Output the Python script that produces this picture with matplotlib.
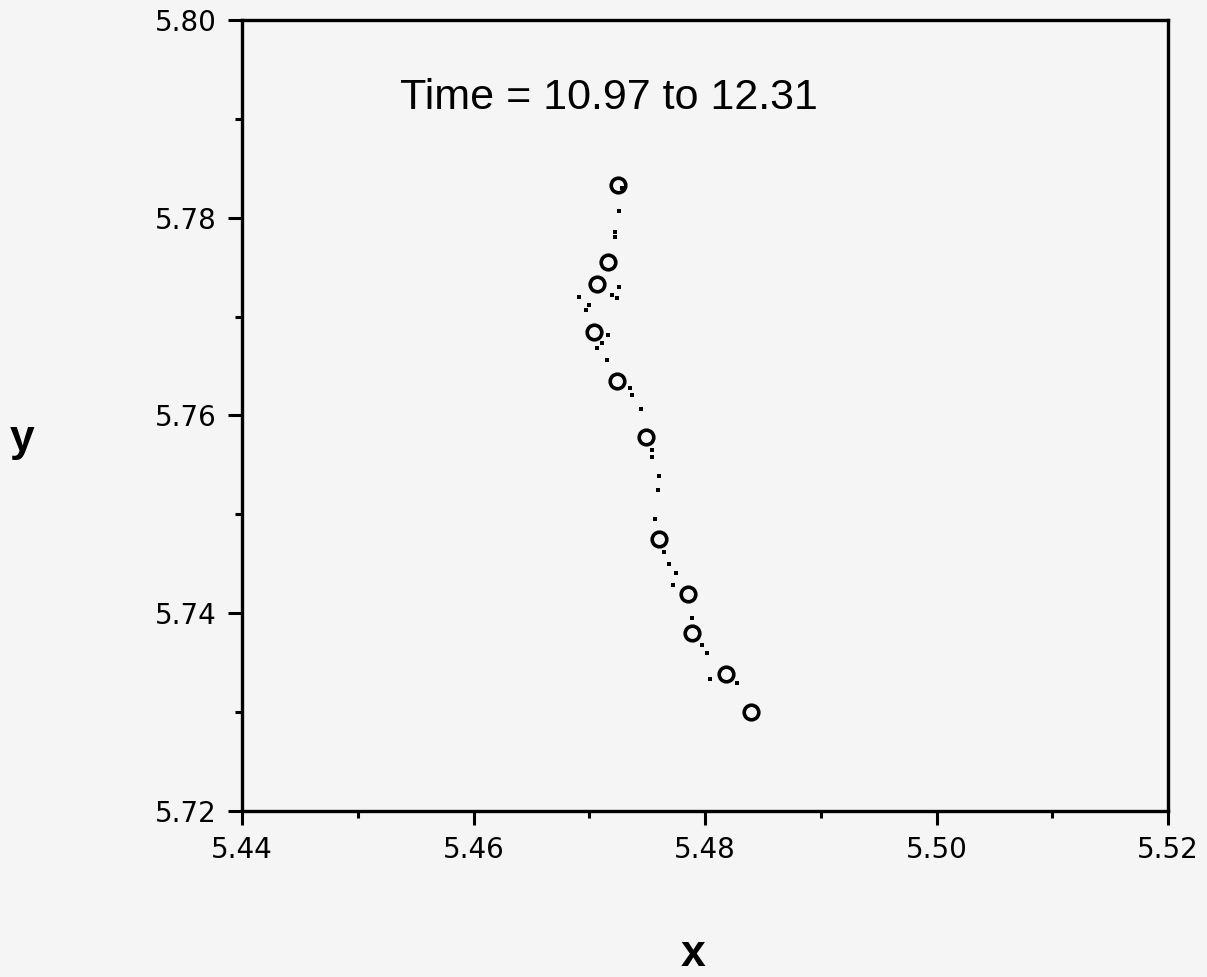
import matplotlib
matplotlib.use("Agg")
import matplotlib.pyplot as plt
from matplotlib.ticker import MultipleLocator, FormatStrFormatter

# Sampled positions (circles) along the trajectory
circle_x = [5.4725, 5.4716, 5.4707, 5.4704, 5.4724, 5.4749, 5.4760, 5.4785, 5.4789, 5.4818, 5.4840]
circle_y = [5.7833, 5.7755, 5.7733, 5.7684, 5.7635, 5.7578, 5.7475, 5.7419, 5.7380, 5.7339, 5.7300]

# Intermediate positions (small dots)
dot_x = [5.4728, 5.4726, 5.4722, 5.4722, 5.4726, 5.4720, 5.4724, 5.4691, 5.4700, 5.4697,
         5.4716, 5.4711, 5.4707, 5.4715, 5.4735, 5.4737, 5.4745, 5.4754, 5.4754, 5.4760,
         5.4759, 5.4757, 5.4765, 5.4769, 5.4775, 5.4772, 5.4789, 5.4797, 5.4802, 5.4804,
         5.4828]
dot_y = [5.7830, 5.7807, 5.7786, 5.7781, 5.7730, 5.7722, 5.7719, 5.7720, 5.7712, 5.7707,
         5.7681, 5.7673, 5.7668, 5.7656, 5.7628, 5.7621, 5.7607, 5.7565, 5.7558, 5.7539,
         5.7525, 5.7495, 5.7462, 5.7450, 5.7441, 5.7429, 5.7395, 5.7368, 5.7360, 5.7334,
         5.7329]

x_ticks = [5.44, 5.46, 5.48, 5.50, 5.52]
y_ticks = [5.72, 5.74, 5.76, 5.78, 5.80]
title_text = "Time = 10.97 to 12.31"

bg = "#f4f5f4"
plt.rcParams['font.family'] = ['Liberation Sans', 'DejaVu Sans']

fig = plt.figure(figsize=(12.07, 9.77), dpi=100, facecolor=bg)
ax = fig.add_axes([242/1207, 1 - 811/977, (1168-242)/1207, (811-20)/977])
ax.set_facecolor(bg)

ax.plot(dot_x, dot_y, linestyle='none', marker='s', markersize=3.4,
        color='black', markeredgewidth=0)
ax.plot(circle_x, circle_y, linestyle='none', marker='o', markersize=10.5,
        markerfacecolor='none', markeredgecolor='black', markeredgewidth=2.6)

ax.set_xlim(5.44, 5.52)
ax.set_ylim(5.72, 5.80)
ax.set_xticks(x_ticks)
ax.set_yticks(y_ticks)
ax.xaxis.set_major_formatter(FormatStrFormatter('%.2f'))
ax.yaxis.set_major_formatter(FormatStrFormatter('%.2f'))
ax.xaxis.set_minor_locator(MultipleLocator(0.01))
ax.yaxis.set_minor_locator(MultipleLocator(0.01))

ax.tick_params(which='major', direction='out', length=10, width=2.2,
               labelsize=20, pad=8, top=False, right=False)
ax.tick_params(which='minor', direction='out', length=5, width=2.2,
               top=False, right=False)
for lbl in ax.get_xticklabels() + ax.get_yticklabels():
    lbl.set_family(['DejaVu Sans'])
for s in ax.spines.values():
    s.set_linewidth(2.4)

fig.text(400/1207, 1 - 109/977, title_text, fontsize=31, ha='left', va='baseline')

fig.text(22/1207, 1 - 440/977, 'y', fontsize=32, fontweight='bold', ha='center', va='center')
fig.text(693/1207, 1 - 955/977, 'x', fontsize=32, fontweight='bold', ha='center', va='center')

fig.savefig('out.png', dpi=100, facecolor=bg)
